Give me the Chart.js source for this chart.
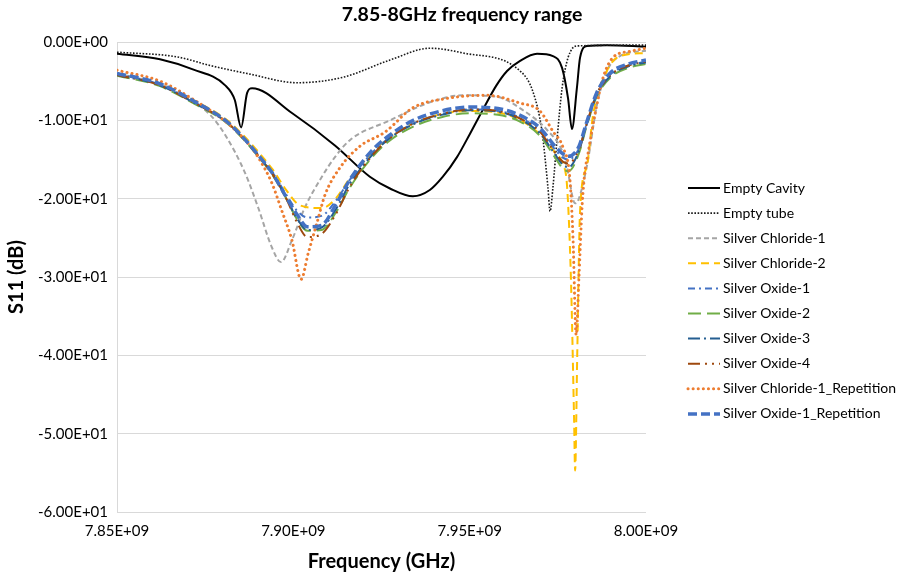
<!DOCTYPE html>
<html>
<head>
<meta charset="utf-8">
<script src="https://cdn.jsdelivr.net/npm/chart.js@4.4.1/dist/chart.umd.min.js"></script>
<style>
  body { margin: 0; background: #fff; }
  canvas { display: block; }
</style>
</head>
<body>
<canvas id="s11-chart" width="900" height="575"></canvas>
<script>
// 图表数据 (frequency in GHz, S11 in dB)
const chartTitle = '7.85-8GHz frequency range';
const xTitle = 'Frequency (GHz)';
const yTitle = 'S11 (dB)';

const seriesNames = [
    'Empty Cavity', 'Empty tube', 'Silver Chloride-1', 'Silver Chloride-2',
    'Silver Oxide-1', 'Silver Oxide-2', 'Silver Oxide-3', 'Silver Oxide-4',
    'Silver Chloride-1_Repetition', 'Silver Oxide-1_Repetition'
];

const cavityFreq = [7.850, 7.8622, 7.8715, 7.8806, 7.8834, 7.8852, 7.8869, 7.8883, 7.8997, 7.9118, 7.9217, 7.9274, 7.9339, 7.9387, 7.9424, 7.9464, 7.9501, 7.9538, 7.9575, 7.9606, 7.9643, 7.9691, 7.9736, 7.9762, 7.9779, 7.9790, 7.9804, 7.9813, 7.9833, 7.9889, 8.000];
const cavityS11 = [-1.5, -2.2, -3.5, -5.5, -7.4, -10.9, -6.5, -5.9, -9.1, -13.2, -17.2, -18.7, -19.7, -18.9, -17.2, -14.7, -11.7, -8.6, -5.6, -3.7, -2.4, -1.5, -1.8, -3.3, -7.2, -11.1, -5.9, -2.0, -0.5, -0.4, -0.6];

const tubeFreq = [7.850, 7.867, 7.8764, 7.8877, 7.901, 7.9141, 7.9274, 7.9387, 7.9481, 7.9643, 7.9679, 7.9705, 7.9722, 7.9728, 7.9736, 7.9748, 7.9762, 7.9779, 7.9804, 8.000];
const tubeS11 = [-1.3, -1.9, -3.0, -4.1, -5.2, -4.5, -2.3, -0.8, -1.4, -3.7, -6.3, -11.4, -18.6, -21.6, -18.6, -12.3, -5.9, -2.0, -0.5, -0.4];

const chloride1Freq = [7.850, 7.8622, 7.8670, 7.8764, 7.8806, 7.8863, 7.8900, 7.8939, 7.8965, 7.8996, 7.9033, 7.9081, 7.9118, 7.9161, 7.9274, 7.9387, 7.9481, 7.9577, 7.9651, 7.9719, 7.9765, 7.9776, 7.9799, 7.9807, 7.9833, 7.9861, 7.9889, 7.9926, 8.000];
const chloride1S11 = [-4.0, -5.4, -6.3, -9.3, -11.8, -16.7, -21.1, -26.2, -28.1, -25.3, -21.1, -17.2, -14.7, -12.5, -10.0, -7.7, -6.8, -7.0, -8.7, -11.2, -14.2, -16.0, -20.6, -20.3, -15.7, -8.0, -3.7, -1.8, -1.1];

// 样品曲线公用频点
const sampleFreq = [7.850, 7.862, 7.872, 7.881, 7.886, 7.890, 7.894, 7.898, 7.901, 7.904, 7.908, 7.912, 7.916, 7.922, 7.927, 7.934, 7.942, 7.950, 7.958, 7.964, 7.970, 7.974, 7.9765, 7.978, 7.981, 7.983, 7.986, 7.990, 7.995, 8.000];

const chloride2Freq = [7.850, 7.862, 7.872, 7.881, 7.886, 7.890, 7.894, 7.898, 7.901, 7.904, 7.908, 7.912, 7.916, 7.922, 7.927, 7.934, 7.942, 7.950, 7.958, 7.964, 7.970, 7.974, 7.9765, 7.9776, 7.9787, 7.9796, 7.9799, 7.9805, 7.9813, 7.9833, 7.985, 7.9889, 7.9926, 8.000];
const chloride2S11 = [-4.1, -5.3, -7.5, -9.9, -12.0, -14.0, -16.2, -18.9, -20.6, -21.1, -21.2, -20.0, -17.4, -14.3, -12.2, -10.4, -9.2, -8.8, -9.0, -9.9, -11.8, -14.0, -15.7, -18.3, -30.0, -48.0, -54.7, -40.0, -21.6, -15.7, -9.3, -3.7, -1.8, -1.4];

const oxide1S11 = [-4.1, -5.4, -7.7, -10.2, -12.4, -14.4, -16.6, -19.5, -21.5, -22.4, -22.2, -20.3, -17.6, -14.3, -12.3, -10.4, -9.2, -8.6, -8.8, -9.6, -11.4, -13.6, -14.8, -15.0, -13.6, -10.7, -6.7, -4.1, -3.0, -2.5];
const oxide2S11 = [-4.3, -5.6, -7.9, -10.3, -12.5, -14.6, -16.9, -20.0, -22.6, -24.1, -24.0, -21.8, -18.6, -14.9, -12.7, -10.8, -9.6, -9.1, -9.3, -10.1, -12.0, -14.6, -16.2, -16.5, -14.2, -11.0, -7.0, -4.5, -3.3, -2.8];
const oxide3S11 = [-4.2, -5.5, -7.8, -10.2, -12.4, -14.5, -16.8, -19.9, -22.5, -24.0, -23.7, -21.4, -18.1, -14.6, -12.4, -10.5, -9.3, -8.7, -8.9, -9.8, -11.7, -14.2, -15.7, -16.0, -13.9, -10.8, -6.8, -4.3, -3.1, -2.6];
const oxide4S11 = [-4.2, -5.5, -7.8, -10.2, -12.4, -14.5, -16.8, -20.0, -23.0, -24.9, -24.5, -22.0, -18.5, -14.7, -12.4, -10.4, -9.2, -8.6, -8.8, -9.7, -11.5, -14.0, -15.3, -15.5, -13.7, -10.7, -6.7, -4.2, -3.0, -2.5];
const oxide1RepS11 = [-4.0, -5.3, -7.6, -10.1, -12.3, -14.4, -16.7, -19.8, -22.0, -23.6, -23.4, -20.8, -17.6, -14.0, -12.0, -10.0, -8.8, -8.3, -8.5, -9.3, -11.0, -13.2, -14.3, -14.6, -13.3, -10.5, -6.5, -3.9, -2.8, -2.3];

const chloride1RepFreq = [7.850, 7.8622, 7.8715, 7.8806, 7.8863, 7.8900, 7.8939, 7.8967, 7.8996, 7.9022, 7.9042, 7.9067, 7.9090, 7.9133, 7.9189, 7.9260, 7.9339, 7.9436, 7.9549, 7.9643, 7.9699, 7.9736, 7.9765, 7.9784, 7.9793, 7.9802, 7.9810, 7.9819, 7.9827, 7.9835, 7.9855, 7.9878, 7.9906, 7.9954, 8.000];
const chloride1RepS11 = [-3.6, -5.0, -7.3, -10.1, -12.5, -14.7, -18.0, -21.5, -25.3, -30.3, -27.0, -23.1, -19.5, -16.0, -13.3, -11.5, -8.4, -7.2, -6.8, -7.8, -8.8, -11.4, -13.5, -17.4, -25.0, -37.4, -30.0, -20.8, -16.5, -14.4, -9.3, -4.6, -2.0, -1.2, -0.8];

// 轴刻度
const xMin = 7.85, xMax = 8.00, xStep = 0.05;
const yMin = -60, yMax = 0, yStep = 10;

const lineColors = ['#000000', '#1a1a1a', '#a5a5a5', '#ffc000', '#4472c4', '#70ad47', '#255e91', '#9e480e', '#ed7d31', '#4472c4'];
const lineWidths = [2, 1.6, 2, 2, 2, 2, 2, 2, 3, 3.5];
const lineDashes = [[], [1.6, 1.6], [5, 3], [8, 5], [7, 4, 2, 4], [13, 6], [12, 4, 2, 4], [12, 5, 2, 5, 2, 5], [0.1, 5], [9, 4]];
const lineCaps = ['butt', 'butt', 'butt', 'butt', 'butt', 'butt', 'butt', 'butt', 'round', 'butt'];

const seriesFreqs = [cavityFreq, tubeFreq, chloride1Freq, chloride2Freq, sampleFreq, sampleFreq, sampleFreq, sampleFreq, chloride1RepFreq, sampleFreq];
const seriesValues = [cavityS11, tubeS11, chloride1S11, chloride2S11, oxide1S11, oxide2S11, oxide3S11, oxide4S11, chloride1RepS11, oxide1RepS11];

const FONT = 'Lato, "Open Sans", "Liberation Sans", sans-serif';

// 科学计数格式 7.85E+09
function sciLabel(v) {
    if (Math.abs(v) < 1e-9) return '0.00E+00';
    let e = Math.floor(Math.log10(Math.abs(v)));
    let m = v / Math.pow(10, e);
    if (Math.abs(Number(m.toFixed(2))) >= 10) { m = m / 10; e += 1; }
    return m.toFixed(2) + 'E' + (e < 0 ? '-' : '+') + String(Math.abs(e)).padStart(2, '0');
}

// 标题 + 图例
const sidePlugin = {
    id: 'sidePlugin',
    afterDraw(chart) {
        const ctx = chart.ctx;
        ctx.save();
        ctx.fillStyle = '#000';
        ctx.font = 'bold 19.5px ' + FONT;
        ctx.textAlign = 'center';
        ctx.textBaseline = 'middle';
        ctx.fillText(chartTitle, 462, 15);

        const x0 = 688, y0 = 188, rowH = 25.1;
        ctx.textAlign = 'left';
        ctx.font = '14px ' + FONT;
        chart.data.datasets.forEach((ds, i) => {
            const y = y0 + i * rowH;
            ctx.save();
            ctx.strokeStyle = ds.borderColor;
            ctx.lineWidth = ds.borderWidth;
            ctx.lineCap = ds.borderCapStyle;
            ctx.setLineDash(ds.borderDash);
            ctx.beginPath();
            ctx.moveTo(x0, y);
            ctx.lineTo(x0 + 32, y);
            ctx.stroke();
            ctx.restore();
            ctx.fillStyle = '#000';
            ctx.fillText(ds.label, x0 + 35, y);
        });
        ctx.restore();
    }
};

const datasets = seriesNames.map((name, i) => ({
    label: name,
    data: seriesFreqs[i].map((f, k) => ({ x: f, y: seriesValues[i][k] })),
    borderColor: lineColors[i],
    borderWidth: lineWidths[i],
    borderDash: lineDashes[i],
    borderCapStyle: lineCaps[i],
    pointRadius: 0,
    fill: false,
    cubicInterpolationMode: 'monotone',
    order: seriesNames.length - i
}));

new Chart(document.getElementById('s11-chart').getContext('2d'), {
    type: 'line',
    data: { datasets: datasets },
    plugins: [sidePlugin],
    options: {
        responsive: false,
        animation: false,
        layout: { padding: { left: 0, right: 254, top: 42, bottom: 0 } },
        plugins: { legend: { display: false }, title: { display: false }, tooltip: { enabled: false } },
        scales: {
            x: {
                type: 'linear',
                min: xMin, max: xMax,
                afterFit(scale) { scale.height = 63; },
                afterBuildTicks(scale) {
                    const t = [];
                    for (let v = xMin; v <= xMax + 1e-9; v += xStep) t.push({ value: Number(v.toFixed(2)) });
                    scale.ticks = t;
                },
                grid: { display: false, drawTicks: false },
                border: { display: false },
                ticks: {
                    padding: 10,
                    color: '#000',
                    font: { family: FONT, size: 15 },
                    maxRotation: 0,
                    callback: v => sciLabel(v * 1e9)
                },
                title: {
                    display: true, text: xTitle, color: '#000',
                    font: { family: FONT, size: 20, weight: 'bold' },
                    padding: { top: 0, bottom: 1 }
                }
            },
            y: {
                min: yMin, max: yMax,
                afterFit(scale) { scale.width = 117; },
                grid: { color: '#d9d9d9', lineWidth: 1, drawTicks: false },
                border: { display: true, color: '#d9d9d9', width: 1 },
                ticks: {
                    stepSize: yStep,
                    padding: 9,
                    color: '#000',
                    font: { family: FONT, size: 15 },
                    callback: v => sciLabel(v)
                },
                title: {
                    display: true, text: yTitle, color: '#000',
                    font: { family: FONT, size: 20, weight: 'bold' },
                    padding: { top: 5, bottom: 0 }
                }
            }
        }
    }
});
</script>
</body>
</html>
